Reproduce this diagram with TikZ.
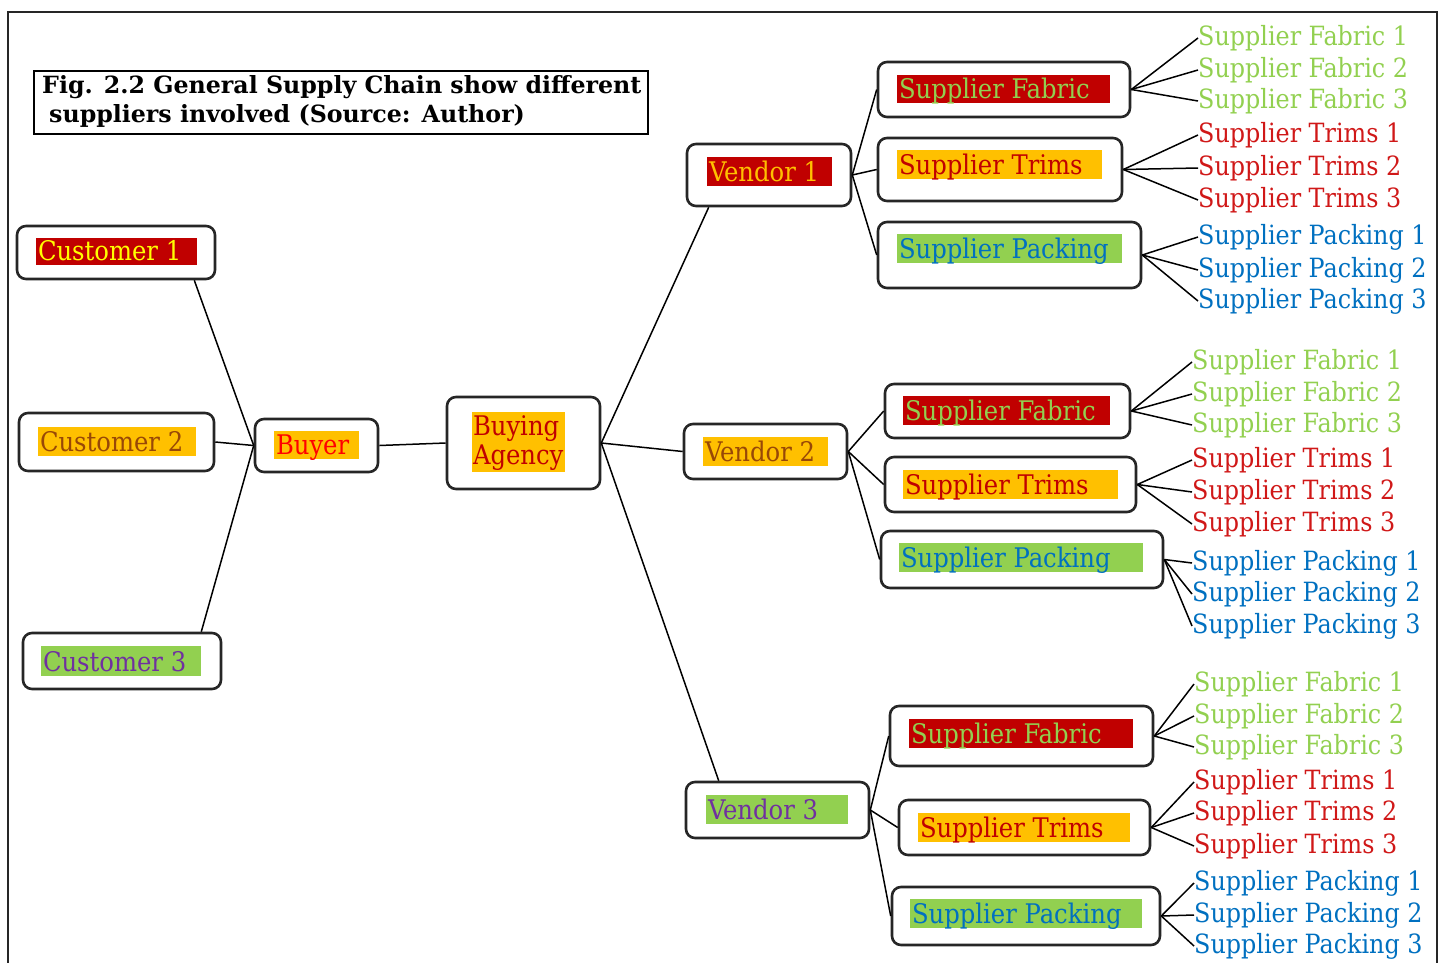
\documentclass[tikz,border=0pt]{standalone}
\usepackage{fontspec}
\setmainfont{DejaVu Serif Condensed}
\newfontfamily\captionfont{DejaVu Serif}
\usetikzlibrary{fit,calc}

\definecolor{cRed}{HTML}{C00000}
\definecolor{cOrange}{HTML}{FFC000}
\definecolor{cGreen}{HTML}{92D050}
\definecolor{cBlue}{HTML}{0070C0}
\definecolor{cPurple}{HTML}{7030A0}
\definecolor{cBrown}{HTML}{984807}
\definecolor{cYellow}{HTML}{FFFF00}
\definecolor{cBright}{HTML}{FF0000}
\definecolor{cTrim}{HTML}{D01818}

\tikzset{
  nbox/.style={draw=black!85, line width=2.6pt, rounded corners=9pt, fill=white, inner sep=0pt},
  hlfill/.style={inner sep=0pt, draw=none},
  lbl/.style={inner sep=0pt, font=\fontsize{27}{30}\selectfont, anchor=base west},
  leaf/.style={inner sep=0pt, font=\fontsize{26.5}{29}\selectfont, anchor=west},
  link/.style={line width=1.5pt, draw=black},
  frame/.style={line width=2pt, draw=black!85},
}

% rounded box: name, x1, y1, x2, y2
\newcommand\outerbox[5]{\node[nbox, fit={(#2,#3)(#4,#5)}] (#1) {};}
% coloured label band: name, x1, y1, x2, y2, band colour, text colour, text
\newcommand\hlbox[8]{%
  \node[hlfill, fill=#6, fit={(#2,#3)(#4,#5)}] (#1h) {};
  \node[lbl, text=#7] (#1l) at ([xshift=2pt,yshift=5pt]#1h.south west) {#8};}

\begin{document}
\begin{tikzpicture}[x=1pt, y=-1pt]
\useasboundingbox (0,0) rectangle (1444,962);

% outer frame (open at the bottom edge of the page)
\draw[frame] (8,980) -- (8,12) -- (1437,12) -- (1437,980);

% caption box
\node[draw=black, line width=1.6pt, inner sep=0pt, fit={(34,71)(648,134)}] (title) {};
\node[anchor=north west, align=left, inner sep=0pt,
      font=\captionfont\bfseries\fontsize{23.7}{29}\selectfont] (titletext) at (42,75)
  {Fig. 2.2 General Supply Chain show different\\\hspace*{7pt}suppliers involved (Source: Author)};

% customers, buyer, agency
\outerbox{c1}{17}{226}{215}{279}
\hlbox{c1}{36}{238}{197}{265}{cRed}{cYellow}{Customer 1}
\outerbox{c2}{19}{413}{214}{471}
\hlbox{c2}{38}{427}{196}{456}{cOrange}{cBrown}{Customer 2}
\outerbox{c3}{23}{633}{221}{689}
\hlbox{c3}{41}{646}{201}{676}{cGreen}{cPurple}{Customer 3}
\outerbox{by}{255}{419}{378}{472}
\hlbox{by}{274}{431}{359}{459}{cOrange}{cBright}{Buyer}
\outerbox{ag}{447}{397}{600}{489}
\node[hlfill, fill=cOrange, fit={(472,412)(565,472)}] (agh) {};
\node[inner sep=0pt, align=left, anchor=west, text=cRed,
      font=\fontsize{27}{29}\selectfont] (agl) at ([xshift=1pt,yshift=-1pt]agh.west) {Buying\\Agency};

% vendors
\outerbox{v1}{687}{144}{851}{206}
\hlbox{v1}{707}{157}{832}{186}{cRed}{cOrange}{Vendor 1}
\outerbox{v2}{684}{424}{847}{479}
\hlbox{v2}{703}{437}{828}{466}{cOrange}{cBrown}{Vendor 2}
\outerbox{v3}{686}{782}{869}{838}
\hlbox{v3}{706}{795}{848}{824}{cGreen}{cPurple}{Vendor 3}

% suppliers of vendor 1
\outerbox{fa}{878}{62}{1130}{117}
\hlbox{fa}{897}{75}{1110}{103}{cRed}{cGreen}{Supplier Fabric}
\outerbox{ta}{878}{138}{1122}{201}
\hlbox{ta}{897}{150}{1102}{179}{cOrange}{cRed}{Supplier Trims}
\outerbox{pa}{878}{222}{1141}{288}
\hlbox{pa}{897}{234}{1122}{263}{cGreen}{cBlue}{Supplier Packing}

% suppliers of vendor 2
\outerbox{fb}{885}{384}{1130}{438}
\hlbox{fb}{903}{396}{1110}{425}{cRed}{cGreen}{Supplier Fabric}
\outerbox{tb}{885}{457}{1136}{512}
\hlbox{tb}{903}{470}{1118}{499}{cOrange}{cRed}{Supplier Trims}
\outerbox{pb}{881}{531}{1163}{588}
\hlbox{pb}{899}{543}{1143}{572}{cGreen}{cBlue}{Supplier Packing}

% suppliers of vendor 3
\outerbox{fc}{890}{706}{1153}{766}
\hlbox{fc}{909}{719}{1133}{748}{cRed}{cGreen}{Supplier Fabric}
\outerbox{tc}{899}{800}{1150}{855}
\hlbox{tc}{918}{813}{1130}{842}{cOrange}{cRed}{Supplier Trims}
\outerbox{pc}{892}{887}{1160}{945}
\hlbox{pc}{910}{899}{1142}{928}{cGreen}{cBlue}{Supplier Packing}

% individual suppliers (text only)
\foreach \g/\x/\ya/\yb/\yc/\yd/\ye/\yf/\yg/\yh/\yi in
  {a/1198/38/70/101/135/168/200/237/270/301,
   b/1192/362/394/425/460/492/524/563/594/626,
   c/1194/684/716/747/782/813/846/883/915/946}{
  \node[leaf, text=cGreen] (f\g1) at (\x,\ya) {Supplier Fabric 1};
  \node[leaf, text=cGreen] (f\g2) at (\x,\yb) {Supplier Fabric 2};
  \node[leaf, text=cGreen] (f\g3) at (\x,\yc) {Supplier Fabric 3};
  \node[leaf, text=cTrim] (t\g1) at (\x,\yd) {Supplier Trims 1};
  \node[leaf, text=cTrim] (t\g2) at (\x,\ye) {Supplier Trims 2};
  \node[leaf, text=cTrim] (t\g3) at (\x,\yf) {Supplier Trims 3};
  \node[leaf, text=cBlue] (p\g1) at (\x,\yg) {Supplier Packing 1};
  \node[leaf, text=cBlue] (p\g2) at (\x,\yh) {Supplier Packing 2};
  \node[leaf, text=cBlue] (p\g3) at (\x,\yi) {Supplier Packing 3};
  \foreach \k in {f,t,p}{
    \foreach \n in {1,2,3}{
      \draw[link] (\k\g.east) -- (\k\g\n.west);
    }
  }
}

% customers to buyer, buyer to agency
\draw[link] ($(c1.south east)+(-22,0)$) -- (by.west);
\draw[link] (c2.east) -- (by.west);
\draw[link] ($(c3.north east)+(-21,0)$) -- (by.west);
\draw[link] (by.east) -- (ag.west);

% agency to vendors
\draw[link] (ag.east) -- ($(v1.south west)+(23,0)$);
\draw[link] (ag.east) -- (v2.west);
\draw[link] (ag.east) -- ($(v3.north west)+(34,0)$);

% vendors to their suppliers
\foreach \v/\g in {v1/a, v2/b, v3/c}{
  \draw[link] (\v.east) -- (f\g.west);
  \draw[link] (\v.east) -- (t\g.west);
  \draw[link] (\v.east) -- (p\g.west);
}
\end{tikzpicture}
\end{document}
